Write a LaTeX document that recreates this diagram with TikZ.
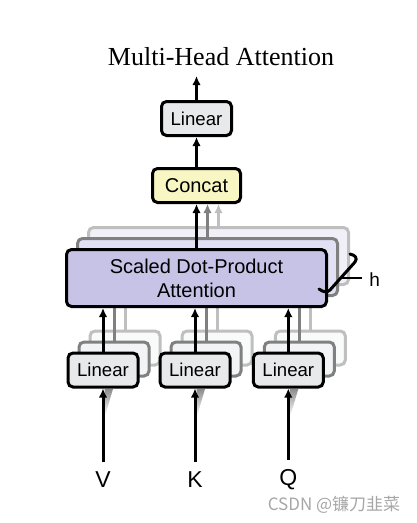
\documentclass[tikz,border=0pt]{standalone}
\usepackage{fontspec}
\setmainfont{Liberation Serif}
\newfontfamily\hv{Liberation Sans}
\newfontfamily\cjk{Noto Sans CJK SC}
\usetikzlibrary{arrows.meta,fadings}
\definecolor{linc}{HTML}{E8E9EB}
\definecolor{conc}{HTML}{F8F6C2}
\definecolor{attc}{HTML}{C6C3E7}
\begin{document}
\begin{tikzpicture}[x=1pt,y=-1pt,
  box/.style={draw, line width=3pt, rounded corners=5pt, inner sep=0pt},
  linbox/.style={box, fill=linc, minimum width=70pt, minimum height=34pt,
    font={\hv\fontsize{18.6pt}{22pt}\selectfont}},
  conbox/.style={box, fill=conc, minimum width=88pt, minimum height=34pt,
    font={\hv\fontsize{20pt}{24pt}\selectfont}},
  attbox/.style={box, fill=attc, minimum width=260pt, minimum height=57pt,
    align=center, font={\hv\fontsize{20pt}{24pt}\selectfont}},
  copyA/.style={draw=black!50, fill=#1!50!white},
  copyB/.style={draw=black!25, fill=#1!25!white},
  arr/.style={line width=3pt, -{Latex[length=9pt,width=8.5pt]}},
  lbl/.style={inner sep=0pt, font={\hv\fontsize{23pt}{26pt}\selectfont}},
  fadeshadow/.style={black!45, path fading=south}
]
\useasboundingbox (0,0) rectangle (417,523);

% title
\node[anchor=base, inner sep=0pt, font={\fontsize{26pt}{30pt}\selectfont}] (title) at (221,65) {Multi-Head Attention};

% attention copies
\node[attbox, copyB=attc] (a3) at (218.5,256) {};
\node[attbox, copyA=attc] (a2) at (207.5,267) {};

% linear copies
\foreach \i/\cx in {1/103,2/195,3/288.3}{
  \node[linbox, copyB=linc] (l\i c) at (\cx+22,348) {};
  \node[linbox, copyA=linc] (l\i b) at (\cx+11,359) {};
}
% lines from linear copies (tips hidden behind attention)
\foreach \i in {1,2,3}{
  \draw[line width=3pt, black!25] (l\i c.north) -- (l\i c.north |- a2.south);
  \draw[line width=3pt, black!50] (l\i b.north) -- (l\i b.north |- a2.south);
}

% front attention
\node[attbox] (a1) at (196.5,278) {Scaled Dot-Product\\Attention};

% front linear boxes
\node[linbox] (l1) at (103,370) {Linear};
\node[linbox] (l2) at (195,370) {Linear};
\node[linbox] (l3) at (288.3,370) {Linear};

% concat and top linear
\node[conbox] (concat) at (196.5,185.5) {Concat};
\node[linbox] (lt) at (196.5,118.5) {Linear};
\coordinate (out) at (196.5,76);

% inputs
\node[lbl] (v) at (103,480) {V};
\node[lbl] (k) at (195,480) {K};
\node[lbl] (q) at (288.3,480) {Q};

% faded shadows of the input copies
\foreach \cx in {103,195,288.3}{
  \fill[fadeshadow] (\cx+1.5,389) -- (\cx+10,389) -- (\cx+2,416) -- cycle;
}

% arrows
\draw[arr, shorten <=10pt] (v.north) -- (l1.south);
\draw[arr, shorten <=10pt] (k.north) -- (l2.south);
\draw[arr, shorten <=10pt] (q.north) -- (l3.south);
\draw[arr] (l1.north) -- (l1.north |- a1.south);
\draw[arr] (l2.north) -- (l2.north |- a1.south);
\draw[arr] (l3.north) -- (l3.north |- a1.south);
\draw[arr, black!25] (a3.north) -- (a3.north |- concat.south);
\draw[arr, black!50] (a2.north) -- (a2.north |- concat.south);
\draw[arr] (a1.north) -- (concat.south);
\draw[arr] (concat.north) -- (lt.south);
\draw[arr] (lt.north) -- (out);

% h marker
\draw[line width=3pt, line cap=round, line join=round]
  (350,254) .. controls (355,255) and (358,258) .. (355,262) -- (330,290)
  .. controls (327,293) and (323,292) .. (319,289);
\draw[line width=2pt] (341,278) -- (362,278);
\node[anchor=base, inner sep=0pt, font={\hv\fontsize{19pt}{22pt}\selectfont}] (h) at (374.7,286) {h};

% watermark
\node[inner sep=0pt, text=black!35, font={\cjk\fontsize{17pt}{20pt}\selectfont}] (wm) at (334,505) {CSDN @镰刀韭菜};
\end{tikzpicture}
\end{document}
